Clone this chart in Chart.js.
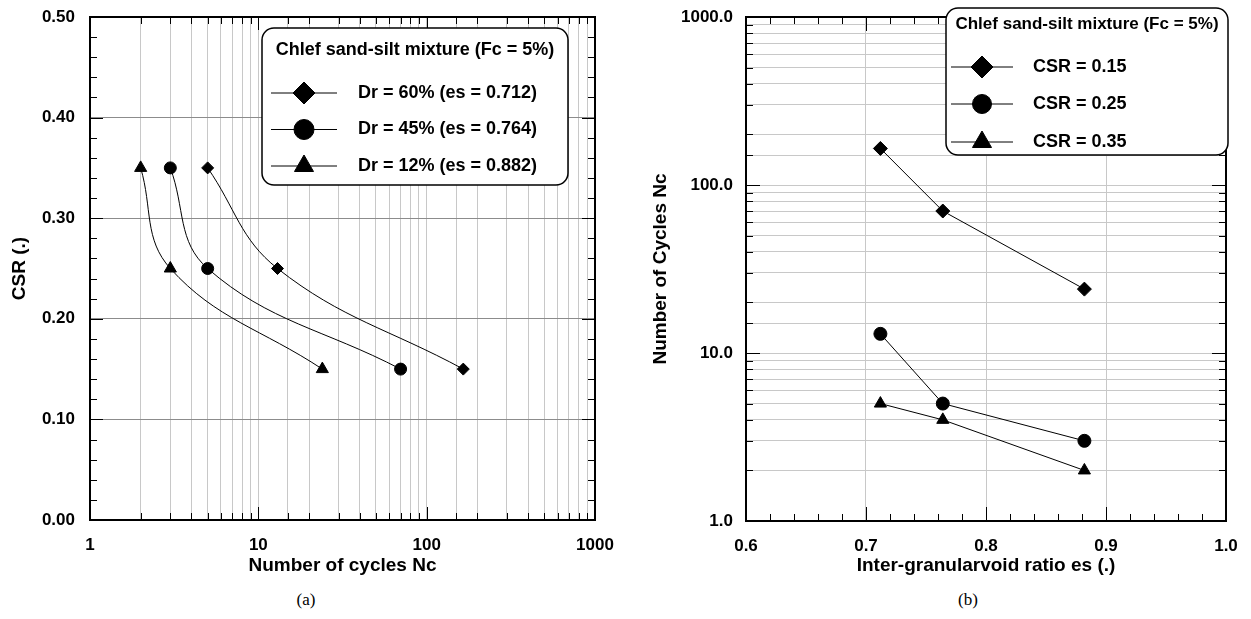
<!DOCTYPE html>
<html>
<head>
<meta charset="utf-8">
<script src="https://cdn.jsdelivr.net/npm/chart.js@4.4.1/dist/chart.umd.min.js"></script>
<style>
  html, body { margin: 0; padding: 0; background: #fff; width: 1251px; height: 619px; overflow: hidden; }
  #wa { position: absolute; left: 0; top: 0; width: 620px; height: 590px; }
  #wb { position: absolute; left: 625px; top: 0; width: 626px; height: 590px; }
  .cap { position: absolute; top: 590px; font: 17px "Liberation Serif", "Times New Roman", serif; color: #000; transform: translateX(-50%); }
</style>
</head>
<body>
<div id="wa"><canvas id="ca" width="620" height="590"></canvas></div>
<div id="wb"><canvas id="cb" width="626" height="590"></canvas></div>
<div class="cap" style="left:306px">(a)</div>
<div class="cap" style="left:968px">(b)</div>
<script>
// Cyclic triaxial tests, Chlef sand-silt mixture with 5 % fines

// (a) number of cycles to liquefaction for each cyclic stress ratio
const csrLevels = [0.35, 0.25, 0.15];
const ncDr60 = [5, 13, 165];   // Dr = 60 %, es = 0.712
const ncDr45 = [3, 5, 70];     // Dr = 45 %, es = 0.764
const ncDr12 = [2, 3, 24];     // Dr = 12 %, es = 0.882

// (b) number of cycles against inter-granular void ratio
const voidRatios = [0.712, 0.764, 0.882];
const ncCsr015 = [165, 70, 24];
const ncCsr025 = [13, 5, 3];
const ncCsr035 = [5, 4, 2];

const legendTitle = 'Chlef sand-silt mixture (Fc = 5%)';
const densityLabels = ['Dr = 60% (es = 0.712)', 'Dr = 45% (es = 0.764)', 'Dr = 12% (es = 0.882)'];
const csrLabels = ['CSR = 0.15', 'CSR = 0.25', 'CSR = 0.35'];
const cycleDecades = [1, 10, 100, 1000];

const FONT = '"Liberation Sans", Arial, Helvetica, sans-serif';
const tickFont = { family: FONT, size: 17, weight: 'bold' };
const titleFont = { family: FONT, size: 19, weight: 'bold' };

const isDecade = v => cycleDecades.includes(Math.round(v));

// fixed axis boxes: the plot area is set only by the layout padding
const fixHeight = h => s => { s.height = h; s.paddingLeft = 0; s.paddingRight = 0; };
const fixWidth = w => s => { s.width = w; s.paddingTop = 0; s.paddingBottom = 0; };

// Frame, inward tick marks and the boxed legend
const framePlugin = {
  id: 'frameTicks',
  afterDraw(chart, args, opts) {
    const { ctx, chartArea: a } = chart;
    const xs = chart.scales.x, ys = chart.scales.y;
    ctx.save();
    ctx.strokeStyle = '#000';
    ctx.lineWidth = 1;
    ctx.beginPath();
    opts.xMarks(xs).forEach(([v, major]) => {
      const p = Math.round(xs.getPixelForValue(v)) + 0.5;
      const len = major ? opts.majorLen : opts.minorLen;
      ctx.moveTo(p, a.bottom); ctx.lineTo(p, a.bottom - len);
      ctx.moveTo(p, a.top); ctx.lineTo(p, a.top + len);
    });
    opts.yMarks(ys).forEach(([v, major]) => {
      const p = Math.round(ys.getPixelForValue(v)) + 0.5;
      const len = major ? opts.majorLen : opts.minorLen;
      ctx.moveTo(a.left, p); ctx.lineTo(a.left + len, p);
      ctx.moveTo(a.right, p); ctx.lineTo(a.right - len, p);
    });
    ctx.stroke();
    ctx.lineWidth = 2;
    ctx.strokeRect(a.left, a.top, a.right - a.left, a.bottom - a.top);

    // legend box
    const L = opts.legend;
    ctx.beginPath();
    ctx.roundRect(L.x, L.y, L.w, L.h, 12);
    ctx.fillStyle = '#fff';
    ctx.fill();
    ctx.lineWidth = 1.5;
    ctx.stroke();
    ctx.fillStyle = '#000';
    ctx.textBaseline = 'middle';
    ctx.textAlign = 'center';
    ctx.font = 'bold ' + L.titleSize + 'px ' + FONT;
    ctx.fillText(L.title, L.x + L.w / 2, L.titleY);
    ctx.textAlign = 'left';
    ctx.font = 'bold ' + L.textSize + 'px ' + FONT;
    chart.data.datasets.forEach((ds, i) => {
      const ry = L.rows[i];
      ctx.lineWidth = 1;
      ctx.beginPath();
      ctx.moveTo(L.lineX0, ry); ctx.lineTo(L.lineX1, ry);
      ctx.stroke();
      Chart.helpers.drawPoint(ctx, { pointStyle: ds.pointStyle, radius: L.radii[i], rotation: 0, borderWidth: 1 },
        (L.lineX0 + L.lineX1) / 2, ry);
      ctx.fillText(ds.label, L.textX, ry);
    });
    ctx.restore();
  }
};

function series(label, style, radius, pts) {
  return {
    label, data: pts, pointStyle: style, pointRadius: radius, pointHoverRadius: radius,
    borderColor: '#000', backgroundColor: '#000', pointBackgroundColor: '#000',
    pointBorderColor: '#000', borderWidth: 1, pointBorderWidth: 1
  };
}

const linearMarks = (min, max, step, every) => () => {
  const out = [];
  const n = Math.round((max - min) / step);
  for (let k = 0; k <= n; k++) out.push([min + k * step, k % every === 0]);
  return out;
};
const logMarks = s => s.ticks.map(t => [t.value, isDecade(t.value)]);

// ---------- (a) CSR against number of cycles ----------
new Chart(document.getElementById('ca'), {
  type: 'line',
  data: {
    datasets: [
      series(densityLabels[0], 'rectRot', 6, ncDr60.map((n, i) => ({ x: n, y: csrLevels[i] }))),
      series(densityLabels[1], 'circle', 6, ncDr45.map((n, i) => ({ x: n, y: csrLevels[i] }))),
      series(densityLabels[2], 'triangle', 7, ncDr12.map((n, i) => ({ x: n, y: csrLevels[i] })))
    ].map(d => Object.assign(d, { tension: 0.4 }))
  },
  options: {
    responsive: false, animation: false, devicePixelRatio: 1,
    layout: { padding: { left: 0, top: 17, right: 25, bottom: 0 } },
    plugins: {
      legend: { display: false }, tooltip: { enabled: false },
      frameTicks: {
        majorLen: 13, minorLen: 7,
        xMarks: logMarks, yMarks: linearMarks(0, 0.5, 0.02, 5),
        legend: {
          title: legendTitle, x: 262, y: 28, w: 306, h: 157, titleY: 50, titleSize: 18, textSize: 18,
          rows: [93, 129.5, 166], lineX0: 271, lineX1: 337, textX: 358, radii: [11, 10, 11]
        }
      }
    },
    scales: {
      x: {
        type: 'logarithmic', min: 1, max: 1000,
        border: { display: false },
        grid: { color: '#c8c8c8', lineWidth: 1, drawTicks: false },
        ticks: { autoSkip: false, maxRotation: 0, padding: 15, color: '#000', font: tickFont,
          callback: v => isDecade(v) ? String(Math.round(v)) : '' },
        title: { display: true, text: 'Number of cycles Nc', color: '#000', font: titleFont, padding: { top: 0, bottom: 13 } },
        afterFit: fixHeight(70)
      },
      y: {
        type: 'linear', min: 0, max: 0.5,
        border: { display: false },
        grid: { color: '#8c8c8c', lineWidth: 1, drawTicks: false },
        ticks: { stepSize: 0.1, padding: 15, color: '#000', font: tickFont, callback: v => v.toFixed(2) },
        title: { display: true, text: 'CSR (.)', color: '#000', font: titleFont, padding: { top: 8, bottom: 0 } },
        afterFit: fixWidth(90)
      }
    }
  },
  plugins: [framePlugin]
});

// ---------- (b) number of cycles against void ratio ----------
new Chart(document.getElementById('cb'), {
  type: 'line',
  data: {
    datasets: [
      series(csrLabels[0], 'rectRot', 7, ncCsr015.map((n, i) => ({ x: voidRatios[i], y: n }))),
      series(csrLabels[1], 'circle', 6.5, ncCsr025.map((n, i) => ({ x: voidRatios[i], y: n }))),
      series(csrLabels[2], 'triangle', 7, ncCsr035.map((n, i) => ({ x: voidRatios[i], y: n })))
    ].map(d => Object.assign(d, { tension: 0 }))
  },
  options: {
    responsive: false, animation: false, devicePixelRatio: 1,
    layout: { padding: { left: 0, top: 17, right: 25, bottom: 0 } },
    plugins: {
      legend: { display: false }, tooltip: { enabled: false },
      frameTicks: {
        majorLen: 14, minorLen: 7,
        xMarks: linearMarks(0.6, 1.0, 0.02, 5), yMarks: logMarks,
        legend: {
          title: legendTitle, x: 321, y: 8, w: 282, h: 147, titleY: 24, titleSize: 17, textSize: 18,
          rows: [67, 104, 142], lineX0: 326, lineX1: 388, textX: 408, radii: [11, 9.5, 11]
        }
      }
    },
    scales: {
      x: {
        type: 'linear', min: 0.6, max: 1.0,
        border: { display: false },
        grid: { color: '#c8c8c8', lineWidth: 1, drawTicks: false },
        ticks: { stepSize: 0.1, maxRotation: 0, padding: 15, color: '#000', font: tickFont, callback: v => v.toFixed(1) },
        title: { display: true, text: 'Inter-granularvoid ratio es (.)', color: '#000', font: titleFont, padding: { top: 0, bottom: 13 } },
        afterFit: fixHeight(69)
      },
      y: {
        type: 'logarithmic', min: 1, max: 1000,
        border: { display: false },
        grid: { color: '#c8c8c8', lineWidth: 1, drawTicks: false },
        ticks: { autoSkip: false, padding: 13, color: '#000', font: tickFont,
          callback: v => isDecade(v) ? Number(v).toFixed(1) : '' },
        title: { display: true, text: 'Number of Cycles Nc', color: '#000', font: titleFont, padding: { top: 24, bottom: 0 } },
        afterFit: fixWidth(121)
      }
    }
  },
  plugins: [framePlugin]
});
</script>
</body>
</html>
